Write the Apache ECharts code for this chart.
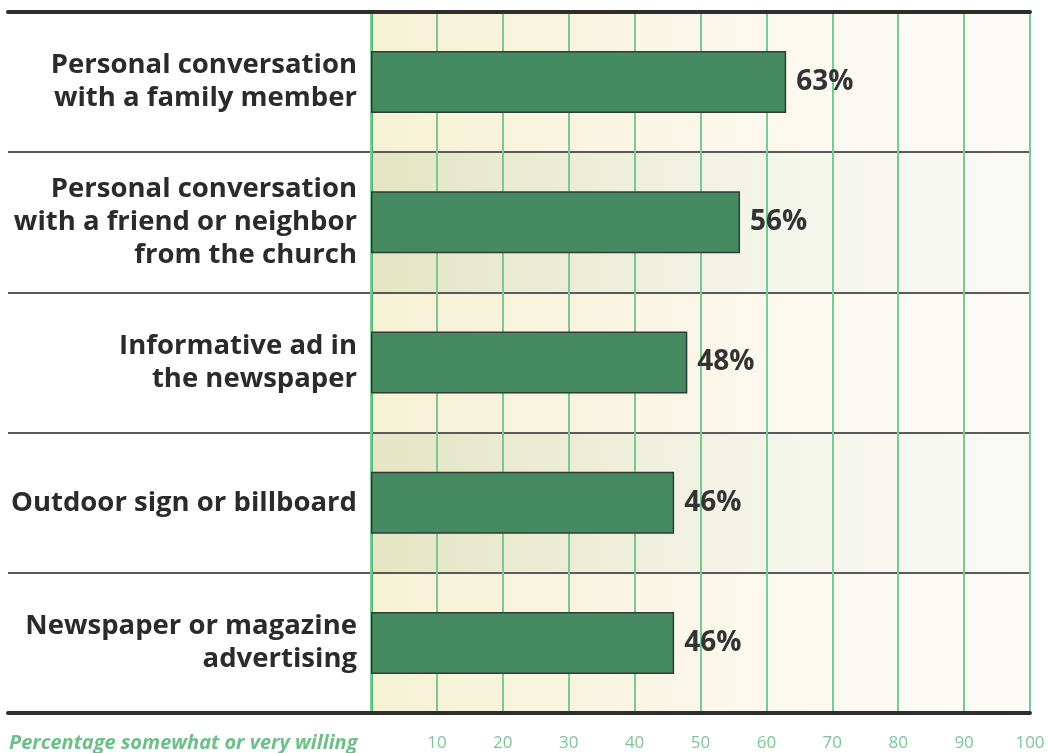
<!DOCTYPE html>
<html><head><meta charset="utf-8">
<script src="https://cdn.jsdelivr.net/npm/echarts@6/dist/echarts.min.js"></script>
<style>html,body{margin:0;padding:0;background:#fff}#c{width:1048px;height:753px}</style>
</head><body><div id="c"></div>
<script>
const categories = [
  'Personal conversation\nwith a family member',
  'Personal conversation\nwith a friend or neighbor\nfrom the church',
  'Informative ad in\nthe newspaper',
  'Outdoor sign or billboard',
  'Newspaper or magazine\nadvertising'
];
const values = [63, 56, 48, 46, 46];
const axisTitle = 'Percentage somewhat or very willing';
const xMin = 0, xMax = 100, xStep = 10;

const grad = (stops) => new echarts.graphic.LinearGradient(0, 0, 1, 0, stops);
const oddBand = grad([
  {offset: 0, color: '#f6f2d4'}, {offset: 0.35, color: '#faf5e2'},
  {offset: 0.6, color: '#fbf8ee'}, {offset: 1, color: '#fbfbf8'}
]);
const evenBand = grad([
  {offset: 0, color: '#e3e5c3'}, {offset: 0.35, color: '#eeeed9'},
  {offset: 0.6, color: '#f4f5ea'}, {offset: 1, color: '#f9f9f6'}
]);

const chart = echarts.init(document.getElementById('c'));
chart.setOption({
  animation: false,
  backgroundColor: '#ffffff',
  textStyle: {fontFamily: 'Open Sans'},
  title: {
    text: axisTitle, left: 4, top: 728,
    textStyle: {color: '#6dbf88', fontSize: 20, fontStyle: 'italic', fontWeight: 'bold', fontFamily: 'Open Sans'}
  },
  grid: [
    {left: 8, width: 363, top: 12, bottom: 40},
    {left: 371, right: 18, top: 12, bottom: 40}
  ],
  xAxis: [
    {gridIndex: 0, type: 'value', position: 'top', z: 1, axisLine: {show: true, lineStyle: {color: '#2e2e2e', width: 4}},
     axisTick: {show: false}, axisLabel: {show: false}, splitLine: {show: false}},
    {gridIndex: 0, type: 'value', position: 'bottom', z: 1, axisLine: {show: true, lineStyle: {color: '#2e2e2e', width: 4}},
     axisTick: {show: false}, axisLabel: {show: false}, splitLine: {show: false}},
    {gridIndex: 1, type: 'value', position: 'top', z: 1, min: xMin, max: xMax, interval: xStep,
     axisLine: {show: true, onZero: false, lineStyle: {color: '#2e2e2e', width: 4}},
     axisTick: {show: false}, axisLabel: {show: false}, splitLine: {show: false}},
    {gridIndex: 1, type: 'value', position: 'bottom', z: 1, min: xMin, max: xMax, interval: xStep,
     axisLine: {show: true, onZero: false, lineStyle: {color: '#2e2e2e', width: 4}},
     axisTick: {show: false},
     axisLabel: {show: true, margin: 22, color: '#7cc597', fontSize: 17, fontFamily: 'Open Sans',
       formatter: v => v === xMin ? '' : String(v)},
     splitLine: {show: true, lineStyle: {color: '#7cc895', width: 2}}}
  ],
  yAxis: [
    {gridIndex: 0, type: 'category', inverse: true, data: categories,
     axisLine: {show: false}, axisTick: {show: false}, axisLabel: {show: false},
     splitLine: {show: true, lineStyle: {color: '#5a5a5a', width: 2}}},
    {gridIndex: 1, type: 'category', inverse: true, data: categories, z: 0,
     axisLine: {show: true, lineStyle: {color: '#52b073', width: 3}},
     axisTick: {show: false},
     axisLabel: {show: true, margin: 14, color: '#2b2b2b', fontSize: 27.5, fontWeight: 'bold',
       fontFamily: 'Open Sans', lineHeight: 33, align: 'right'},
     splitLine: {show: true, lineStyle: {color: '#5a5a5a', width: 2}},
     splitArea: {show: true, areaStyle: {color: [oddBand, evenBand]}}}
  ],
  series: [{
    type: 'bar', xAxisIndex: 3, yAxisIndex: 1, data: values, barWidth: 62, z: 3,
    itemStyle: {color: '#468a61', borderColor: '#2f3d33', borderWidth: 1.5},
    label: {show: true, position: 'right', distance: 10, formatter: '{c}%',
      color: '#333333', fontSize: 28, fontWeight: 'bold', fontFamily: 'Open Sans'}
  }]
});
</script></body></html>
